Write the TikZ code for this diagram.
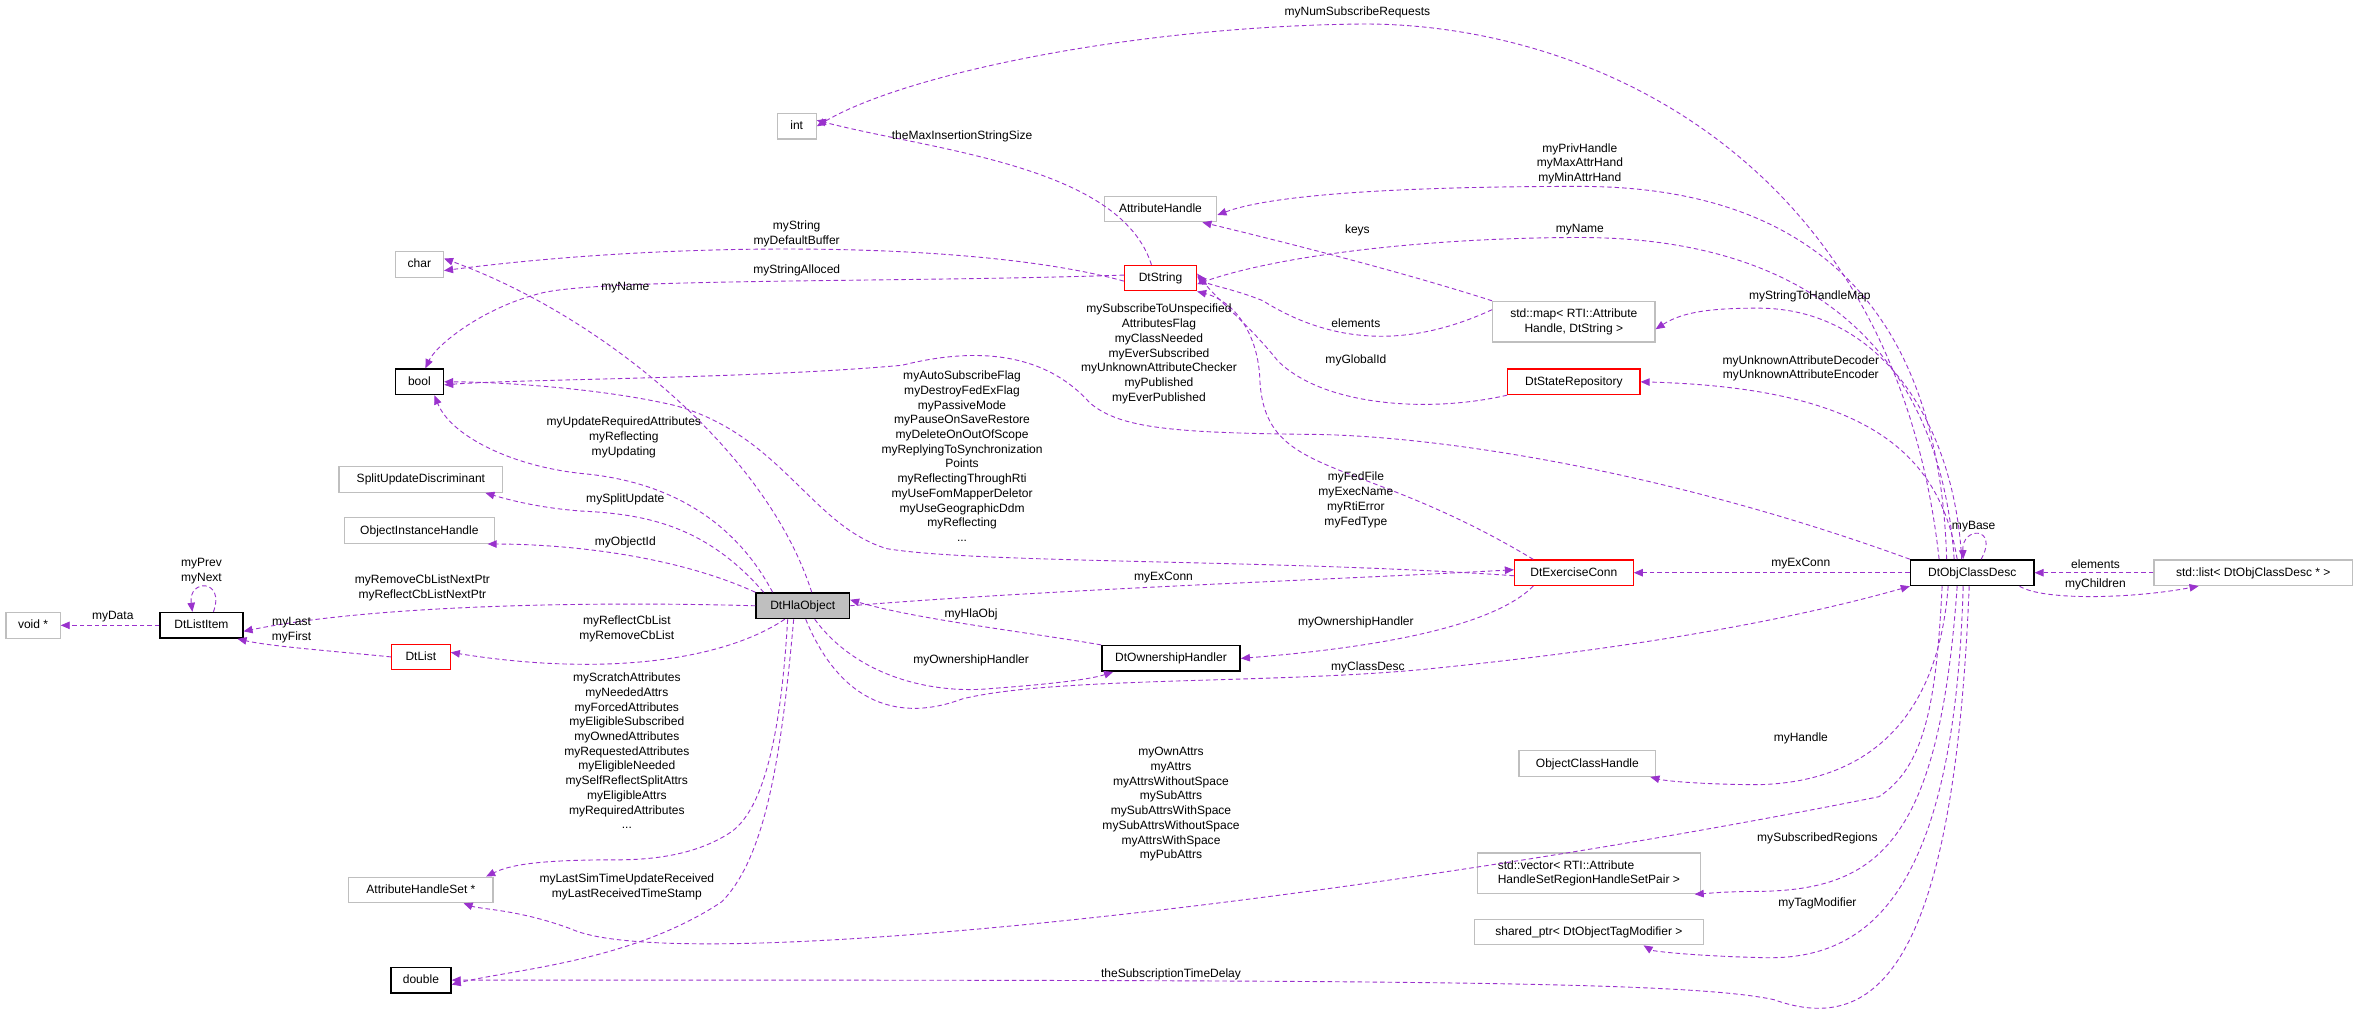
\documentclass[tikz,border=0pt]{standalone}
\usepackage{fontspec}
\setmainfont{Liberation Sans}
\usetikzlibrary{arrows.meta}
\definecolor{ed}{HTML}{9A32CD}
\definecolor{gb}{HTML}{BFBFBF}
\begin{document}
\begin{tikzpicture}[x=1pt,y=-1pt,
  every node/.style={font=\fontsize{8}{9.8}\selectfont},
  box/.style={draw=gb,line width=0.8pt,minimum height=17pt,inner sep=2pt,text height=6pt,text depth=1.5pt},
  red/.style={box,draw=red},
  blk/.style={box,draw=black,line width=1pt},
  box2/.style={box,minimum height=27pt,align=center,text height=,text depth=},
  lab/.style={align=center,inner sep=0pt},
  e/.style={draw=ed,line width=0.6pt,dash pattern=on 3pt off 2pt,-{Triangle[length=6pt,width=5pt,fill=ed]}}]
\useasboundingbox[fill=white] (0,0) rectangle (1568,675);
% nodes
\node[box,minimum width=26pt] (int) at (530,84) {int};
\node[box,minimum width=75pt] (ah) at (772,139) {AttributeHandle};
\node[box,minimum width=32pt] (char) at (279,176) {char};
\node[red,minimum width=48pt] (dts) at (772,185) {DtString};
\node[blk,minimum width=32pt] (bool) at (279,254) {bool};
\node[box2,minimum width=108pt] (map) at (1047,214) {std::map\textless{} RTI::Attribute\\Handle, DtString \textgreater};
\node[red,minimum width=88pt] (dsr) at (1047,254) {DtStateRepository};
\node[box,minimum width=109pt] (sud) at (280,319) {SplitUpdateDiscriminant};
\node[box,minimum width=100pt] (oih) at (279,353) {ObjectInstanceHandle};
\node[box,minimum width=36pt] (void) at (22,416) {void *};
\node[blk,minimum width=55pt] (dli) at (134,416) {DtListItem};
\node[red,minimum width=39pt] (dl) at (280,437) {DtList};
\node[blk,fill=gb,minimum width=62pt] (hla) at (534,403) {DtHlaObject};
\node[blk,minimum width=92pt] (doh) at (779,438) {DtOwnershipHandler};
\node[red,minimum width=79pt] (dec) at (1047,381) {DtExerciseConn};
\node[blk,minimum width=82pt] (ocd) at (1312,381) {DtObjClassDesc};
\node[box,minimum width=132pt] (lst) at (1499,381) {std::list\textless{} DtObjClassDesc * \textgreater};
\node[box,minimum width=91pt] (och) at (1056,508) {ObjectClassHandle};
\node[box2,minimum width=148pt,align=left] (vec) at (1057,581) {std::vector\textless{} RTI::Attribute\\HandleSetRegionHandleSetPair \textgreater};
\node[box,minimum width=152pt] (shp) at (1057,620) {shared\_ptr\textless{} DtObjectTagModifier \textgreater};
\node[box,minimum width=96pt] (ahs) at (280,592) {AttributeHandleSet *};
\node[blk,minimum width=40pt] (dbl) at (280,652) {double};
% edges
\draw[e] ([xshift=-22pt]ocd.north) .. controls (1260,100) and (1050,14) .. (903,16) .. controls (750,18) and (600,50) .. (int.east);
\draw[e] ([xshift=-6pt]dts.north) .. controls (745,110) and (620,100) .. ([yshift=4pt]int.east);
\draw[e] ([xshift=-17pt]ocd.north) .. controls (1290,200) and (1200,124) .. (1051,124) .. controls (950,124) and (850,128) .. ([yshift=-4pt]ah.east);
\draw[e] (map.north west) .. controls (930,180) and (850,160) .. ([xshift=-10pt]ah.south east);
\draw[e] ([xshift=-12pt]ocd.north) .. controls (1290,230) and (1200,158) .. (1051,158) .. controls (950,158) and (850,170) .. ([yshift=-4pt]dts.east);
\draw[e] ([xshift=-7pt]ocd.north) .. controls (1300,280) and (1250,205) .. (1170,205) .. controls (1140,205) and (1120,207) .. ([yshift=-5pt]map.east);
\draw[e] ([xshift=-10pt]ocd.north) .. controls (1290,300) and (1240,258) .. (dsr.east);
\draw[e] ([yshift=-2pt]dts.west) .. controls (650,160) and (450,160) .. ([yshift=-4pt]char.east);
\draw[e] ([yshift=2pt]dts.west) .. controls (600,188) and (400,185) .. (360,195) .. controls (320,205) and (290,230) .. ([xshift=4pt]bool.north);
\draw[e] ([xshift=6pt]hla.north) .. controls (510,300) and (400,210) .. ([yshift=4pt]char.east);
\draw[e] ([xshift=-20pt]hla.north) .. controls (480,330) and (420,318) .. (387,315) .. controls (340,310) and (300,290) .. ([xshift=10pt]bool.south);
\draw[e] ([yshift=-2pt]dec.west) .. controls (850,372) and (650,375) .. (590,365) .. controls (540,350) and (520,290) .. (450,270) .. controls (400,258) and (330,254) .. (bool.east);
\draw[e] (ocd.north west) .. controls (1100,310) and (950,290) .. (875,289) .. controls (780,288) and (745,285) .. (725,268) .. controls (700,240) and (660,228) .. (600,243) .. controls (500,252) and (350,252) .. ([yshift=-2pt]bool.east);
\draw[e] ([xshift=-26pt]hla.north) .. controls (470,350) and (430,342) .. (387,340) .. controls (360,338) and (340,333) .. ([xshift=-12pt]sud.south east);
\draw[e] (hla.north west) .. controls (450,370) and (380,362) .. ([xshift=-5pt]oih.south east);
\draw[e] (hla.west) .. controls (400,400) and (250,402) .. ([yshift=-4pt]dli.east);
\draw[e] ([xshift=8pt]dli.north) .. controls (150,385) and (125,385) .. ([xshift=-6pt]dli.north);
\draw[e] (dli.west) -- (void.east);
\draw[e] (dl.west) .. controls (220,433) and (180,430) .. ([xshift=-4pt]dli.south east);
\draw[e] ([xshift=-12pt]hla.south) .. controls (480,440) and (400,450) .. ([yshift=3pt]dl.east);
\draw[e] (hla.east) .. controls (700,392) and (900,385) .. ([yshift=2pt]dec.west);
\draw[e] (doh.north west) .. controls (680,420) and (610,412) .. ([yshift=4pt]hla.east);
\draw[e] ([xshift=8pt]hla.south) .. controls (570,450) and (620,462) .. (660,458) .. controls (700,455) and (725,452) .. ([xshift=8pt]doh.south west);
\draw[e] ([xshift=-27pt]dec.south) .. controls (990,420) and (900,432) .. (doh.east);
\draw[e] ([xshift=2pt]hla.south) .. controls (560,470) and (600,480) .. (640,465) .. controls (700,450) and (850,455) .. (950,445) .. controls (1100,430) and (1200,410) .. (ocd.south west);
\draw[e] (ocd.west) -- (dec.east);
\draw[e] ([xshift=-27pt]dec.north) .. controls (900,300) and (840,320) .. (838,250) .. controls (836,220) and (820,200) .. (dts.south east);
\draw[e] (dsr.south west) .. controls (950,275) and (880,270) .. (850,240) .. controls (830,215) and (810,200) .. ([yshift=3pt]dts.east);
\draw[e] ([yshift=8pt]map.west) .. controls (930,235) and (880,225) .. (840,200) .. controls (820,192) and (805,190) .. ([yshift=1pt]dts.east);
\draw[e] ([xshift=6pt]ocd.north) .. controls (1330,350) and (1305,350) .. ([xshift=-6pt]ocd.north);
\draw[e] (lst.west) -- (ocd.east);
\draw[e] ([xshift=-10pt]ocd.south east) .. controls (1360,400) and (1420,398) .. ([xshift=30pt]lst.south west);
\draw[e] ([xshift=-16pt]ocd.south) .. controls (1290,470) and (1250,520) .. (1170,522) .. controls (1140,522) and (1110,520) .. ([xshift=-4pt]och.south east);
\draw[e] ([xshift=-10pt]ocd.south) .. controls (1290,560) and (1250,592) .. (1170,593) .. controls (1150,593) and (1140,594) .. ([xshift=-4pt]vec.south east);
\draw[e] ([xshift=-6pt]ocd.south) .. controls (1300,600) and (1240,640) .. (1170,637) .. controls (1130,636) and (1100,633) .. ([xshift=-40pt]shp.south east);
\draw[e] ([xshift=-2pt]ocd.south) .. controls (1300,640) and (1250,690) .. (1180,665) .. controls (1120,652) and (900,652) .. (dbl.east);
\draw[e] ([xshift=-20pt]ocd.south) .. controls (1288,470) and (1280,510) .. (1250,530) .. controls (900,600) and (450,650) .. (380,618) .. controls (345,605) and (320,605) .. ([xshift=-20pt]ahs.south east);
\draw[e] ([xshift=-10pt]hla.south) .. controls (520,480) and (510,540) .. (484,555) .. controls (460,570) and (430,572) .. (410,572) .. controls (360,572) and (340,575) .. ([xshift=-5pt]ahs.north east);
\draw[e] ([xshift=-6pt]hla.south) .. controls (520,500) and (510,570) .. (480,600) .. controls (420,640) and (340,645) .. ([yshift=-3pt]dbl.east);
% labels
\node[lab] (l1) at (903,8) {myNumSubscribeRequests};
\node[lab] (l2) at (640,91) {theMaxInsertionStringSize};
\node[lab] (l3) at (1051,109) {myPrivHandle\\myMaxAttrHand\\myMinAttrHand};
\node[lab] (l4) at (903,153) {keys};
\node[lab] (l5) at (1051,153) {myName};
\node[lab] (l6) at (530,155.5) {myString\\myDefaultBuffer};
\node[lab] (l7) at (530,180) {myStringAlloced};
\node[lab] (l8) at (416,191) {myName};
\node[lab] (l9) at (902,215) {elements};
\node[lab] (l10) at (902,240) {myGlobalId};
\node[lab] (l11) at (1204,197) {myStringToHandleMap};
\node[lab] (l12) at (1198,245) {myUnknownAttributeDecoder\\myUnknownAttributeEncoder};
\node[lab] (l13) at (771,235.5) {mySubscribeToUnspecified\\AttributesFlag\\myClassNeeded\\myEverSubscribed\\myUnknownAttributeChecker\\myPublished\\myEverPublished};
\node[lab] (l14) at (640,303.5) {myAutoSubscribeFlag\\myDestroyFedExFlag\\myPassiveMode\\myPauseOnSaveRestore\\myDeleteOnOutOfScope\\myReplyingToSynchronization\\Points\\myReflectingThroughRti\\myUseFomMapperDeletor\\myUseGeographicDdm\\myReflecting\\...};
\node[lab] (l15) at (415,291) {myUpdateRequiredAttributes\\myReflecting\\myUpdating};
\node[lab] (l16) at (416,332) {mySplitUpdate};
\node[lab] (l17) at (416,361) {myObjectId};
\node[lab] (l18) at (902,332.5) {myFedFile\\myExecName\\myRtiError\\myFedType};
\node[lab] (l19) at (1313,350) {myBase};
\node[lab] (l20) at (1198,375) {myExConn};
\node[lab] (l21) at (1394,375) {elements};
\node[lab] (l22) at (1394,389) {myChildren};
\node[lab] (l23) at (774,384) {myExConn};
\node[lab] (l24) at (134,380) {myPrev\\myNext};
\node[lab] (l25) at (75,410) {myData};
\node[lab] (l26) at (281,391) {myRemoveCbListNextPtr\\myReflectCbListNextPtr};
\node[lab] (l27) at (194,419) {myLast\\myFirst};
\node[lab] (l28) at (646,409) {myHlaObj};
\node[lab] (l29) at (417,418.5) {myReflectCbList\\myRemoveCbList};
\node[lab] (l30) at (902,414) {myOwnershipHandler};
\node[lab] (l31) at (646,439) {myOwnershipHandler};
\node[lab] (l32) at (910,444) {myClassDesc};
\node[lab] (l33) at (417,499.5) {myScratchAttributes\\myNeededAttrs\\myForcedAttributes\\myEligibleSubscribed\\myOwnedAttributes\\myRequestedAttributes\\myEligibleNeeded\\mySelfReflectSplitAttrs\\myEligibleAttrs\\myRequiredAttributes\\...};
\node[lab] (l34) at (1198,491) {myHandle};
\node[lab] (l35) at (779,535) {myOwnAttrs\\myAttrs\\myAttrsWithoutSpace\\mySubAttrs\\mySubAttrsWithSpace\\mySubAttrsWithoutSpace\\myAttrsWithSpace\\myPubAttrs};
\node[lab] (l36) at (1209,558) {mySubscribedRegions};
\node[lab] (l37) at (417,590) {myLastSimTimeUpdateReceived\\myLastReceivedTimeStamp};
\node[lab] (l38) at (1209,601) {myTagModifier};
\node[lab] (l39) at (779,648) {theSubscriptionTimeDelay};
\end{tikzpicture}
\end{document}
